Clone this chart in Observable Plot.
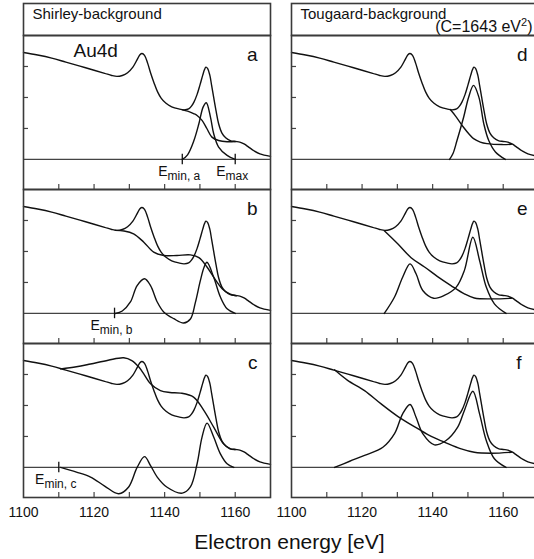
<!DOCTYPE html>
<html><head><meta charset="utf-8">
<script src="https://cdn.jsdelivr.net/npm/d3@7"></script>
<script src="https://cdn.jsdelivr.net/npm/@observablehq/plot@0.6"></script>
<style>
body{margin:0;background:#fff;}
#root{position:relative;width:534px;height:559px;overflow:hidden;background:#fff;font-family:"Liberation Sans",Arial,Helvetica,sans-serif;}
#root > svg{position:absolute;}
</style></head><body><div id="root"></div>
<script>
// ---------- data ----------
const xTicks = [1110, 1120, 1130, 1140, 1150, 1160];
const xTickLabels = [1100, 1120, 1140, 1160];
const yTicks = [1, 2, 3];
const columnTitles = ["Shirley-background", "Tougaard-background"];
const tougaardC = "(C=1643 eV^2)";
const axisTitle = "Electron energy [eV]";
const elementLabel = "Au4d";
const panelLetters = ["a", "b", "c", "d", "e", "f"];

// measured spectrum (eV, intensity in tick units)
const spectrum = [[1100,3.45],[1104,3.37],[1108,3.27],[1112,3.14],[1116,3.01],[1120,2.88],[1123,2.78],[1125,2.71],[1126.5,2.68],[1128,2.71],[1129.5,2.8],[1131,2.98],[1132.2,3.22],[1133,3.38],[1133.6,3.42],[1134.3,3.36],[1135.2,3.1],[1136,2.8],[1137,2.47],[1138,2.18],[1139,1.98],[1140.3,1.82],[1142,1.7],[1144,1.63],[1145.5,1.6],[1146.8,1.63],[1147.6,1.72],[1148.3,1.85],[1149.2,2.1],[1150,2.4],[1150.8,2.72],[1151.3,2.9],[1151.7,2.98],[1152.2,2.93],[1152.8,2.72],[1153.3,2.4],[1153.9,2.0],[1154.6,1.55],[1155.3,1.15],[1156.2,0.86],[1157.3,0.7],[1158.6,0.61],[1160,0.58],[1161.3,0.56],[1162.5,0.5],[1163.8,0.4],[1165.3,0.28],[1167,0.18],[1170,0.1]];

// Shirley backgrounds and peaks
const bgA = [[1145,1.6],[1146.5,1.56],[1148.2,1.48],[1149.2,1.42],[1150.6,1.26],[1152,0.99],[1153.4,0.72],[1155.3,0.61],[1157.7,0.57],[1160,0.58]];
const peakA = [[1145,0],[1146.5,0.15],[1148.3,0.61],[1149.7,1.15],[1150.9,1.69],[1151.8,1.83],[1153,1.36],[1153.9,0.83],[1155.3,0.4],[1157.7,0.13],[1160,0]];
const bgB = [[1126,2.68],[1128.5,2.66],[1131.2,2.57],[1134.1,2.3],[1136.9,1.98],[1139.8,1.87],[1143.5,1.87],[1147.3,1.89],[1149.7,1.8],[1152,1.5],[1153.9,1.17],[1156.3,0.8],[1158.6,0.62],[1160.3,0.57]];
const peakB = [[1126,0],[1128,0.08],[1130.3,0.37],[1132.2,0.9],[1134.3,1.12],[1136,0.9],[1137.9,0.37],[1139.8,0.04],[1142.6,-0.17],[1145.4,-0.31],[1147.3,-0.18],[1148.7,0.35],[1150.1,1.05],[1151.2,1.5],[1152,1.65],[1153.9,1.17],[1155.8,0.53],[1157.7,0.15],[1160,0]];
const bgC = [[1110.5,3.18],[1115,3.25],[1119,3.34],[1124,3.46],[1128.4,3.54],[1130.7,3.45],[1132.7,3.24],[1134.3,2.98],[1136,2.7],[1138.8,2.48],[1141.5,2.42],[1144.5,2.4],[1148.2,2.27],[1151.1,1.84],[1153.9,1.3],[1156.7,0.76],[1158.5,0.6],[1160,0.58]];
const peakC = [[1110.5,0],[1115,-0.15],[1119,-0.31],[1123,-0.6],[1127,-0.85],[1129.8,-0.63],[1132.2,0],[1134.3,0.35],[1136,0.06],[1137.9,-0.31],[1140.7,-0.64],[1145,-0.83],[1147.3,-0.63],[1149.2,0.12],[1150.6,0.98],[1152,1.43],[1153.9,0.98],[1155.8,0.44],[1157.7,0.12],[1159.6,0]];

// Tougaard backgrounds and peaks
const bgD = [[1145,1.61],[1146.5,1.4],[1148.8,1.03],[1150.3,0.82],[1151.6,0.67],[1153.5,0.56],[1155.4,0.51],[1159.7,0.48],[1162.3,0.49]];
const peakD = [[1144.8,0],[1145.8,0.2],[1146.9,0.61],[1148.8,1.37],[1150.2,2.01],[1151.6,2.39],[1153.1,2.01],[1154.5,1.15],[1155.9,0.61],[1157.8,0.24],[1160.6,0]];
const bgE = [[1126.3,2.67],[1130.1,2.25],[1133.9,1.8],[1137.7,1.5],[1141.4,1.19],[1145.2,0.9],[1149,0.63],[1151.8,0.5],[1156.6,0.47],[1162.3,0.49]];
const peakE = [[1126.3,0],[1129.2,0.53],[1131.5,1.17],[1133.6,1.6],[1135.3,1.28],[1137.2,0.74],[1140.3,0.49],[1143.3,0.58],[1146.7,0.85],[1149,1.39],[1151.4,2.46],[1153.3,1.71],[1155.2,0.85],[1157.5,0.31],[1160.8,0]];
const bgF = [[1112.2,3.15],[1115.9,2.81],[1120.7,2.48],[1125.4,2.05],[1130.1,1.65],[1135.8,1.25],[1139.6,1.0],[1143.3,0.82],[1148.1,0.6],[1151.8,0.49],[1156.6,0.46],[1162.3,0.49]];
const peakF = [[1112.2,0],[1116.5,0.2],[1120.7,0.39],[1125.9,0.65],[1129.2,1.09],[1131.5,1.73],[1133.6,2.03],[1135.3,1.62],[1137.2,1.09],[1140.5,0.73],[1143.8,0.87],[1147.1,1.3],[1149,1.84],[1151.4,2.46],[1153.3,1.73],[1155.2,0.87],[1157.5,0.28],[1160.8,0]];

// energy limit markers
const markersA = [{e:1145, label:"E|min, a"}, {e:1160, label:"E|max"}];
const markersB = [{e:1125.8, label:"E|min, b"}];
const markersC = [{e:1110, label:"E|min, c"}];

// ---------- layout ----------
const root = document.getElementById("root");
const colLeft = [23, 291];
const panelTop = [35, 189, 343];
const W = 247, H = 154, ML = 30, MR = 30, MT = 4;
const FONT = "'Liberation Sans', Arial, Helvetica, sans-serif";
const STYLE = {background: "transparent", overflow: "visible", maxWidth: "none", fontFamily: FONT, color: "#111"};

function place(svg, left, top) {
  svg.style.position = "absolute";
  svg.style.left = left + "px";
  svg.style.top = top + "px";
  root.appendChild(svg);
}

// turn "E|sub" into subscripts and "x^2)" into superscripts
function richText(svg) {
  d3.select(svg).selectAll("text").each(function() {
    const t = this.textContent;
    const s = d3.select(this);
    if (t.includes("|")) {
      const [a, b] = t.split("|");
      s.text(null);
      s.append("tspan").text(a);
      s.append("tspan").attr("font-size", 12).attr("dy", 4).text(b);
    } else if (t.includes("^")) {
      const [a, rest] = t.split("^");
      s.text(null);
      s.append("tspan").text(a);
      s.append("tspan").attr("font-size", 11).attr("dy", -6).text(rest.slice(0, 1));
      s.append("tspan").attr("dy", 6).text(rest.slice(1));
    }
  });
}

// title boxes (one small Plot per column)
function titleBox(col) {
  const marks = [
    Plot.frame({stroke: "#3a3a3a", strokeWidth: 1.6}),
    Plot.text([columnTitles[col]], {text: d => d, frameAnchor: "top-left", textAnchor: "start", lineAnchor: "bottom",
      dx: 9, dy: 15, fontSize: 15, fill: "#111"})
  ];
  if (col === 1) {
    marks.push(Plot.text([tougaardC], {text: d => d, frameAnchor: "top-left", textAnchor: "end", lineAnchor: "bottom",
      dx: 532 - colLeft[1], dy: 28, fontSize: 16, fill: "#111"}));
  }
  const svg = Plot.plot({
    width: W + ML + MR, height: 32 + 8,
    marginLeft: ML, marginRight: MR, marginTop: 4, marginBottom: 4,
    style: STYLE, marks
  });
  richText(svg);
  place(svg, colLeft[col] - ML, 3 - 4);
}
titleBox(0);
titleBox(1);

function panel(col, row, curves, markers, letter, extra) {
  const bottom = row === 2;
  const MB = bottom ? 60 : 4;
  const marks = [
    Plot.ruleY([0], {stroke: "#444", strokeWidth: 1.2}),
    Plot.ruleX(xTicks, {x: d => d, insetTop: H - 5, stroke: "#444", strokeWidth: 1.2}),
    Plot.ruleY(yTicks, {y: d => d, insetRight: W - 5, stroke: "#444", strokeWidth: 1.2}),
    ...curves.map(c => Plot.line(c, {x: d => d[0], y: d => d[1], curve: "catmull-rom", stroke: "#111", strokeWidth: 1.4})),
    Plot.frame({stroke: "#3a3a3a", strokeWidth: 1.6}),
    Plot.text([letter], {text: d => d, frameAnchor: "top-right", textAnchor: "end", lineAnchor: "bottom",
      dx: col === 0 ? -13 : (letter === "f" ? -17 : -11), dy: 25, fontSize: 19, fill: "#111"})
  ];
  if (markers) {
    marks.push(Plot.ruleX(markers, {x: "e", y1: -0.17, y2: 0.17, stroke: "#111", strokeWidth: 1.3}));
    marks.push(Plot.text(markers, {x: "e", y: 0, text: "label", textAnchor: "middle", lineAnchor: "bottom",
      dy: 17, dx: -3, fontSize: 14, fill: "#111"}));
  }
  if (extra) {
    marks.push(Plot.text([extra], {text: d => d, frameAnchor: "top-left", textAnchor: "start", lineAnchor: "bottom",
      dx: 50, dy: 21, fontSize: 19, fill: "#111"}));
  }
  if (bottom) {
    marks.push(Plot.axisX(xTickLabels, {tickSize: 0, tickPadding: 10, fontSize: 14, tickFormat: d => String(d), label: null}));
  }
  const svg = Plot.plot({
    width: W + ML + MR, height: H + MT + MB,
    marginLeft: ML, marginRight: MR, marginTop: MT, marginBottom: MB,
    x: {domain: [1100, 1170], axis: null},
    y: {domain: [-0.97, 4], axis: null},
    style: STYLE,
    marks
  });
  richText(svg);
  if (bottom && col === 0) {
    // shared axis title, centred under both columns
    d3.select(svg).append("text")
      .attr("x", 289.5 - (colLeft[0] - ML)).attr("y", H + MT + 52)
      .attr("text-anchor", "middle").attr("font-size", 21).attr("fill", "#111")
      .attr("font-family", FONT).text(axisTitle);
  }
  place(svg, colLeft[col] - ML, panelTop[row] - MT);
}

panel(0, 0, [spectrum, bgA, peakA], markersA, panelLetters[0], elementLabel);
panel(0, 1, [spectrum, bgB, peakB], markersB, panelLetters[1]);
panel(0, 2, [spectrum, bgC, peakC], markersC, panelLetters[2]);
panel(1, 0, [spectrum, bgD, peakD], null, panelLetters[3]);
panel(1, 1, [spectrum, bgE, peakE], null, panelLetters[4]);
panel(1, 2, [spectrum, bgF, peakF], null, panelLetters[5]);
</script></body></html>
